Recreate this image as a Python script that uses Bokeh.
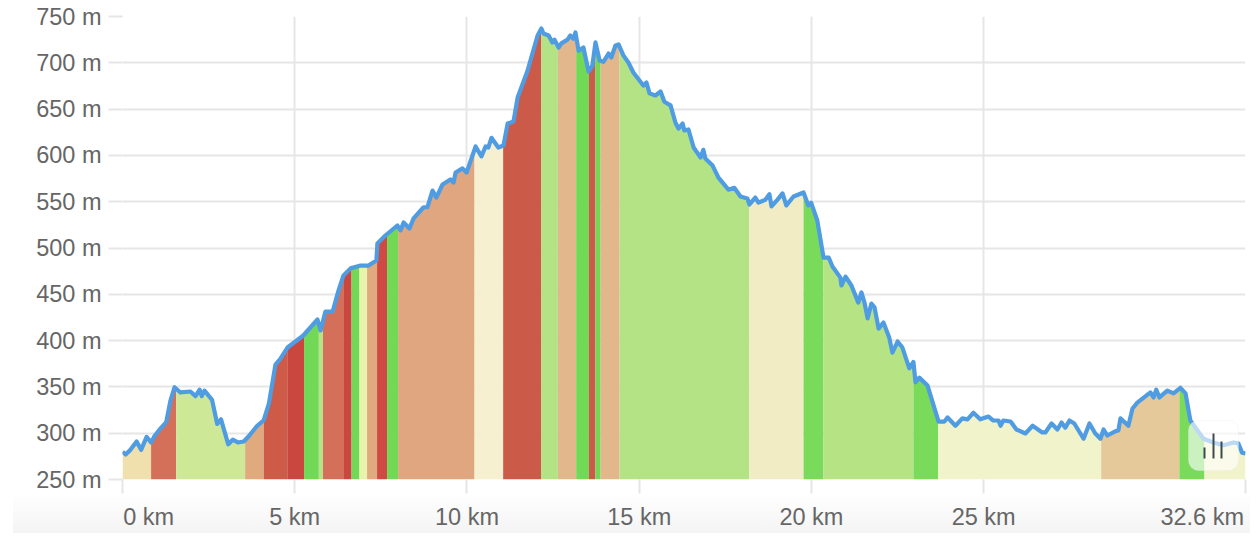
from bokeh.plotting import figure
from bokeh.models import BoxAnnotation, Range1d, FixedTicker, PrintfTickFormatter
from bokeh.embed import file_html
from bokeh.resources import INLINE
import numpy as np

km = [0,.09,.23,.41,.54,.70,.83,.93,1.10,1.27,1.39,1.51,1.68,1.97,2.12,2.24,2.30,2.38,2.60,2.75,2.86,3.07,3.2,3.35,3.52,3.67,3.91,4.10,4.25,
      4.44,4.59,4.79,5.25,5.66,5.75,5.89,6.1,6.27,6.41,6.62,6.91,7.14,7.37,7.40,7.63,7.98,8.07,8.16,
      8.33,8.45,8.74,8.85,9.0,9.11,9.29,9.52,9.61,9.67,9.87,9.99,10.25,10.42,10.54,10.62,10.71,10.91,11.06,11.18,11.35,11.47,11.76,11.90,12.05,12.16,12.22,12.37,12.48,12.54,12.66,12.74,12.92,13.0,13.09,13.15,13.24,13.38,13.53,13.64,13.73,13.85,13.96,14.11,14.19,14.31,14.40,14.54,
      14.69,14.83,15.12,15.21,15.3,15.47,15.62,15.73,15.91,16.05,16.14,16.26,16.31,16.43,16.58,16.78,16.86,16.92,17.13,17.3,17.59,
      17.76,17.94,18.14,18.2,18.37,18.46,18.66,18.78,18.84,19.01,19.16,19.27,19.48,19.77,19.91,19.99,20.17,20.35,20.5,20.61,20.84,20.87,20.99,21.16,21.36,21.45,21.54,21.63,21.74,21.83,21.95,22.09,22.26,22.35,22.5,22.64,22.84,22.96,23.02,23.13,23.37,
      23.69,23.86,23.95,24.18,24.38,24.53,24.70,24.9,25.14,25.28,25.43,25.49,25.57,25.78,25.95,26.21,26.42,26.7,26.79,26.97,27.14,27.26,27.37,27.49,27.63,27.9,28.07,28.24,28.39,28.48,28.59,28.82,28.91,28.97,
      29.2,29.32,29.46,29.84,29.93,30.01,30.1,30.33,30.51,30.71,30.86,31.0,31.38,31.67,31.96,32.25,32.39,32.5,32.6]
elev = [280,277,282,291,282,296,290,297,305,312,335,349.6,344,345,340,347,340,346,336,310,315,288,293,290,291,297,308,314,332,
        374,380.7,392.5,405.5,422.8,411,431.4,431.4,454,470,478,481,481,486.5,505,513.5,524.3,519,527.5,
        521,532,544,544,562,554.5,568.6,574,570.7,581.5,586,581.5,609.6,599,609.6,608.5,619,608.5,610.7,634.4,636.6,662.5,691.7,710,729.5,737,731.6,729.5,722,725,716.5,721,725,729.5,726,732.7,713,716.5,690.6,697,722,702.5,701,710,705.7,718.7,719.8,708,
        700,689.5,675.5,678.7,667,664.7,669,658,654,635.5,629,634.4,627,628,608.5,597.7,606,596.6,589,576,563,
        565,555.6,553.5,547,554.5,549,552,558,545,552,559,546,555.6,560,546,549,529.7,489.7,489.7,480,468,459.5,469,459.5,441,452,441,424,440,436,413,419.5,403,387,399,392.5,370,377,355,360,351.5,
        312.6,312.6,317,308,316,315,322,315,318,313.7,313.7,308,313.7,312.6,304,299.7,308,300.8,300.8,310.5,304,311.6,306,313.7,310.5,294,310.5,299.7,294,304,297.5,302,303,316,
        308,326.7,333,344,338.6,347,338.6,346,343,349,343,313.7,294,290,287,290,289,279,278]

band_edges = [0,.83,1.56,3.56,4.10,4.80,5.27,5.70,5.82,6.43,6.65,6.88,7.10,7.39,7.68,8.0,10.22,11.05,12.16,12.64,13.17,13.54,13.73,13.88,14.43,18.19,19.77,20.35,22.96,23.68,28.41,30.68,31.41,32.6]
band_colors = ["#f0e0ad","#d4705a","#cde896","#e0a97e","#ce5a48","#c9473f","#72d956","#b8e188","#d4705a","#c9473f","#72d956","#e8f3ae","#e0a97e","#cf4a42","#72d956","#dfa67f","#f6f0d0","#cc5a48","#b3e384","#e3b78c","#72d956","#cc5a48","#72d956","#e3b78c","#b3e384","#f1ecc4","#7ada5a","#b6e484","#7ada5a","#f1f3cb","#e5c99a","#7ada5a","#f1f3cb"]

y_ticks = [250,300,350,400,450,500,550,600,650,700,750]
x_ticks = [0,5,10,15,20,25,32.6]
x_labels = ["0 km","5 km","10 km","15 km","20 km","25 km","32.6 km"]
FONT = "Liberation Sans"
TXT = "#666666"
GRID = "#e6e6e6"
NBSP = "\u00a0"

p = figure(width=1250, height=533, output_backend="svg", toolbar_location=None,
           x_range=Range1d(0, 32.6), y_range=Range1d(250, 750),
           min_border_left=122, min_border_right=5, min_border_top=16, min_border_bottom=54)
p.outline_line_color = None
p.background_fill_color = None
p.border_fill_color = None
# soft grey fade at the foot of the screenshot
p.styles = {"background-image": "linear-gradient(#ffffff, #f4f4f4)",
            "background-repeat": "no-repeat",
            "background-position": "13px 493px",
            "background-size": "1237px 40px"}

# end labels sit beside their ticks: non-breaking padding shifts them off-centre
overrides = dict(zip(x_ticks, x_labels))
overrides[x_ticks[0]] = NBSP * 8 + x_labels[0]
overrides[x_ticks[-1]] = x_labels[-1] + NBSP

p.xaxis.ticker = FixedTicker(ticks=x_ticks)
p.xaxis.major_label_overrides = overrides
p.xaxis.major_tick_out = 14
p.xaxis.major_tick_in = 0
p.xaxis.major_tick_line_color = GRID
p.xaxis.major_tick_line_width = 2
p.xaxis.minor_tick_line_color = None
p.xaxis.axis_line_color = None
p.xaxis.major_label_standoff = 10
p.xaxis.major_label_text_font = FONT
p.xaxis.major_label_text_font_size = "23.5px"
p.xaxis.major_label_text_color = TXT

p.yaxis.ticker = FixedTicker(ticks=y_ticks)
p.yaxis.formatter = PrintfTickFormatter(format="%d m")
p.yaxis.major_tick_out = 14
p.yaxis.major_tick_in = 0
p.yaxis.major_tick_line_color = GRID
p.yaxis.major_tick_line_width = 2
p.yaxis.minor_tick_line_color = None
p.yaxis.axis_line_color = None
p.yaxis.major_label_standoff = 7
p.yaxis.major_label_text_font = FONT
p.yaxis.major_label_text_font_size = "23.5px"
p.yaxis.major_label_text_color = TXT

p.grid.grid_line_color = GRID
p.grid.grid_line_width = 2

km_a = np.array(km)
elev_a = np.array(elev)
for i, c in enumerate(band_colors):
    a, b = band_edges[i], band_edges[i+1]
    inner = (km_a > a) & (km_a < b)
    xs = np.concatenate(([a], km_a[inner], [b]))
    ys = np.concatenate(([np.interp(a, km_a, elev_a)], elev_a[inner], [np.interp(b, km_a, elev_a)]))
    p.varea(x=xs, y1=np.full(len(xs), 250.0), y2=ys, fill_color=c)

p.line(km, elev, line_color="#4f9ce2", line_width=4.2, line_join="round")

# translucent chart-toggle button
p.add_layout(BoxAnnotation(left=1188, right=1238, top=420, bottom=470,
                           left_units="canvas", right_units="canvas", top_units="canvas", bottom_units="canvas",
                           fill_color="#ffffff", fill_alpha=0.62, line_color="#e8e8e8", line_width=1, border_radius=10))
for l, t in [(1203, 447), (1212, 433), (1220, 441)]:
    p.add_layout(BoxAnnotation(left=l, right=l+2, top=t, bottom=458,
                               left_units="canvas", right_units="canvas", top_units="canvas", bottom_units="canvas",
                               fill_color="#3d4a4f", fill_alpha=1, line_color=None))

open("out.html", "w").write(file_html(p, INLINE))
